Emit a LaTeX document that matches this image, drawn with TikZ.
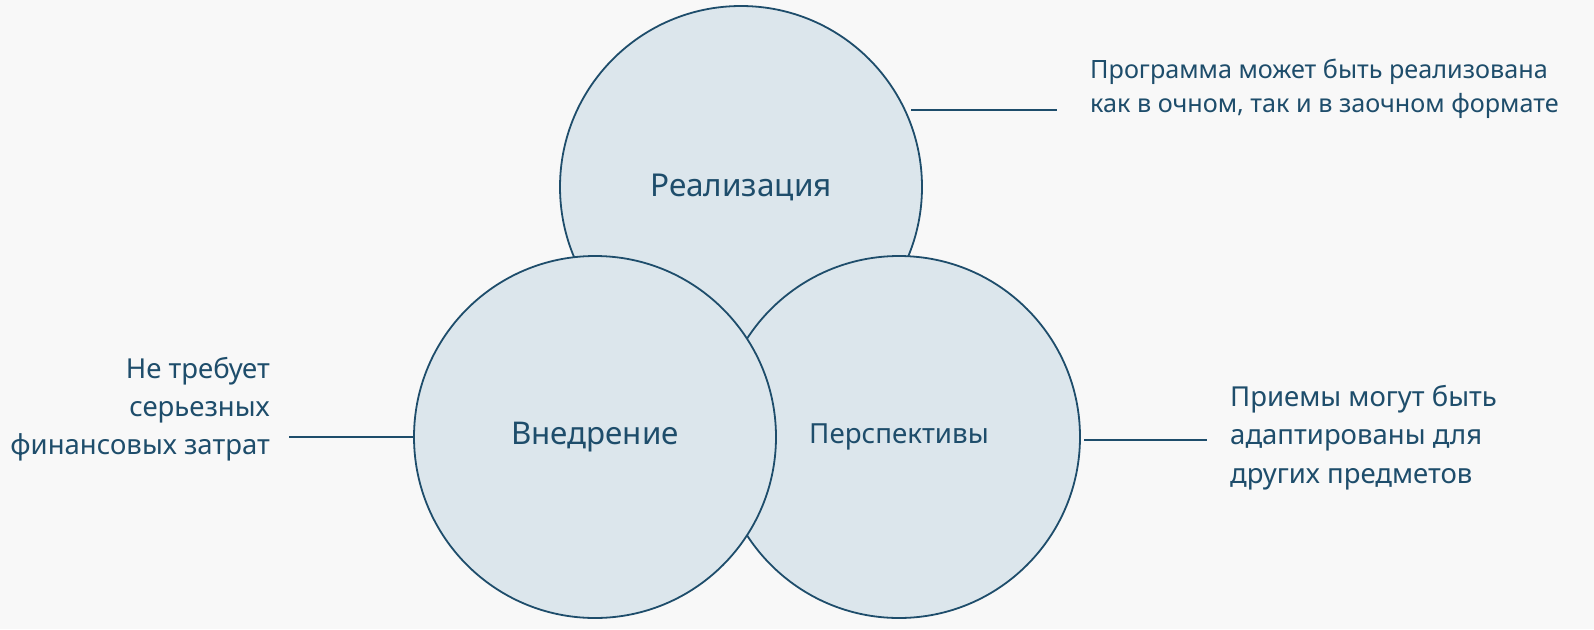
\documentclass[tikz,border=0pt]{standalone}
\usepackage{fontspec}
\setmainfont{Noto Sans}
\definecolor{bgcol}{HTML}{F8F8F8}
\definecolor{circfill}{HTML}{DCE6EC}
\definecolor{navy}{HTML}{1E4D6B}
\tikzset{
  circ/.style={circle, draw=navy, fill=circfill, line width=1.8pt, minimum size=362pt, inner sep=0pt, text=navy},
  leader/.style={draw=navy, line width=1.8pt},
  note/.style={inner sep=0pt, text=navy},
}
\begin{document}
\begin{tikzpicture}[x=1pt,y=-1pt]
\fill[bgcol] (0,0) rectangle (1594,629);
\useasboundingbox (0,0) rectangle (1594,629);
\node[circ, font={\fontsize{31.5}{38}\selectfont}] (top) at (741,187) {\raisebox{-3pt}{Реализация}};
\node[circ, font={\fontsize{27.7}{36}\selectfont}] (right) at (899,437) {\raisebox{-2pt}{Перспективы}};
\node[circ, font={\fontsize{31.3}{38}\selectfont}] (left) at (595,437) {\raisebox{-2pt}{Внедрение}};
\coordinate (t1) at (911,110);
\coordinate (t2) at (1057,110);
\coordinate (l2) at (289,437);
\coordinate (r1) at (1084,440);
\coordinate (r2) at (1207,440);
\draw[leader] (t1) -- (t2);
\draw[leader] (left.west) -- (l2);
\draw[leader] (r1) -- (r2);
\node[note, anchor=north west, align=left, font={\fontsize{25.2}{34}\selectfont}] (tt) at (1090,59) {Программа может быть реализована\\как в очном, так и в заочном формате};
\node[note, anchor=north east, align=right, font={\fontsize{27.5}{38}\selectfont}] (lt) at (270,357) {Не требует\\серьезных\\финансовых затрат};
\node[note, anchor=north west, align=left, font={\fontsize{27.5}{38.5}\selectfont}] (rt) at (1230,385) {Приемы могут быть\\адаптированы для\\других предметов};
\end{tikzpicture}
\end{document}
